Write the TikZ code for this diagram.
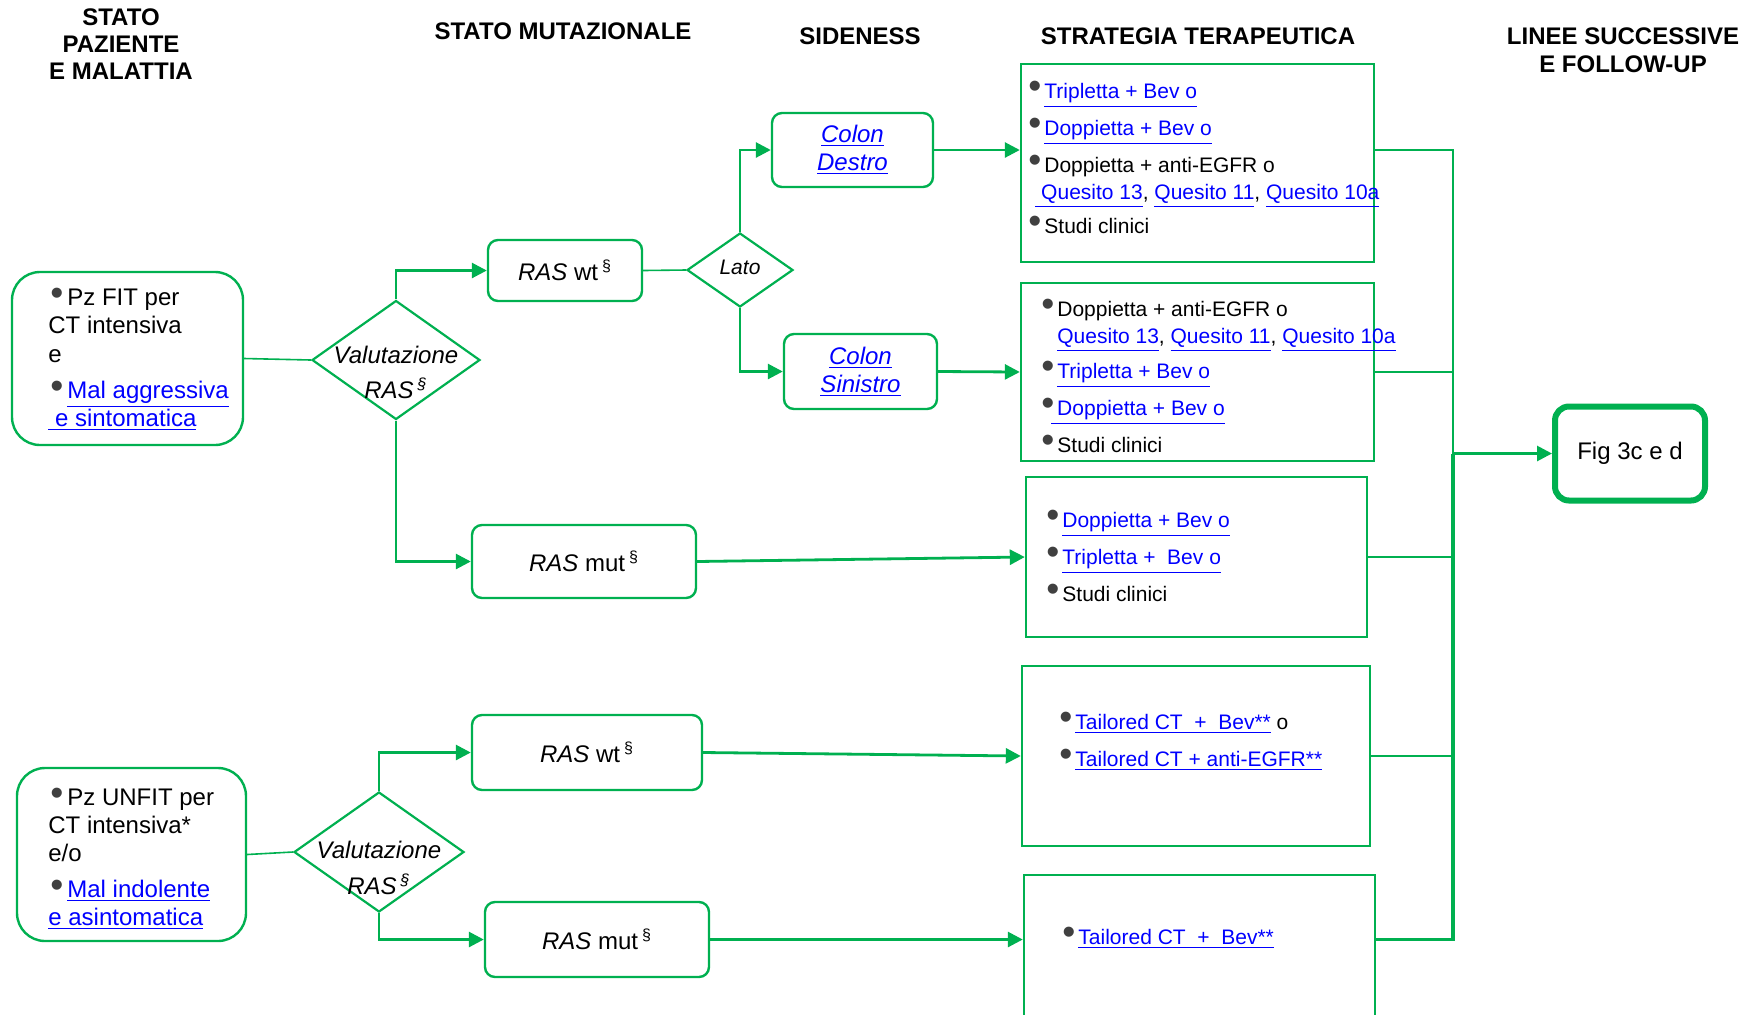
\documentclass[tikz,border=0pt]{standalone}
\usepackage{fontspec}
\setmainfont{Liberation Sans}
\usepackage{graphicx}
\usepackage{tikz}
\usetikzlibrary{arrows.meta, shapes.geometric, positioning, calc}
\definecolor{boxgreen}{HTML}{00B050}
\definecolor{linkblue}{HTML}{0000FF}
\definecolor{dotgray}{HTML}{404040}
\newcommand{\lnk}[1]{\textcolor{linkblue}{\underline{#1}}}
\newcommand{\itm}[1][8pt]{\makebox[#1][l]{\textcolor{dotgray}{\scalebox{1.55}{\fontsize{12}{12}\selectfont •}}}}
\newcommand{\ssign}{\hspace{2pt}\textsuperscript{§}}

\begin{document}
\begin{tikzpicture}[x=0.5pt, y=-0.5pt, >={Triangle[length=7.5pt,width=7.5pt]},
  hd/.style={font=\bfseries\fontsize{12}{13.5}\selectfont, align=center, inner sep=0},
  rbox/.style={draw=boxgreen, line width=1.2pt, rounded corners=5pt, inner sep=0,
    font=\fontsize{12}{14}\selectfont, align=center},
  sbox/.style={draw=boxgreen, line width=1.2pt, inner sep=0},
  diam/.style={diamond, draw=boxgreen, line width=1.1pt, inner sep=0},
  dlab/.style={font=\itshape\fontsize{12}{17.5}\selectfont, align=center, inner sep=0},
  lst/.style={anchor=north west, inner sep=0, align=left, font=\fontsize{10.5}{13.5}\selectfont},
  conn/.style={draw=boxgreen, line width=1.4pt},
  plain/.style={draw=boxgreen, line width=0.8pt}]
\useasboundingbox (0,0) rectangle (1747,1014);

\node[hd] (hpat) at (121,44) {STATO\\PAZIENTE\\E MALATTIA};
\node[hd] (hmut) at (563,31) {STATO MUTAZIONALE};
\node[hd] (hside) at (860,36) {SIDENESS};
\node[hd] (hstrat) at (1198,36) {STRATEGIA TERAPEUTICA};
\node[hd, font=\bfseries\fontsize{12}{14}\selectfont] (hfol) at (1623,50) {LINEE SUCCESSIVE\\E FOLLOW-UP};

\node[rbox, rounded corners=14pt, minimum width=115.5pt, minimum height=86.5pt] (fit) at (127.5,358.5) {};
\node[lst, font=\fontsize{12}{14.25}\selectfont] (fitt) at (48,287.5) {%
  \hspace*{1pt}\itm[8.5pt]Pz FIT per\\
  CT intensiva\\
  e\\[3.75pt]
  \hspace*{1pt}\itm[8.5pt]\lnk{Mal aggressiva}\\
  \lnk{\ e sintomatica}};
\node[diam, minimum width=84pt, minimum height=59.5pt,
  label={[dlab, yshift=-6pt]center:{Valutazione\\RAS\ssign}}] (v1) at (396,360) {};
\node[rbox, minimum width=77pt, minimum height=30.5pt] (w1) at (565,270.5) {\textit{RAS} wt\ssign};
\node[diam, minimum width=53pt, minimum height=37pt,
  label={[dlab, font=\itshape\fontsize{10.5}{12}\selectfont, yshift=1.5pt]center:Lato}] (lato) at (740,270) {};
\node[rbox, minimum width=80.5pt, minimum height=37pt, font=\itshape\fontsize{12}{14}\selectfont] (cd) at (852.5,150) {\lnk{Colon}\\\lnk{Destro}};
\node[rbox, minimum width=76.5pt, minimum height=37.5pt, font=\itshape\fontsize{12}{14}\selectfont] (cs) at (860.5,371.5) {\lnk{Colon}\\\lnk{Sinistro}};
\node[rbox, minimum width=112pt, minimum height=36.5pt] (m1) at (584,561.5) {\textit{RAS} mut\ssign};

\node[sbox, minimum width=176.5pt, minimum height=99pt] (s1) at (1197.5,163) {};
\node[lst] (s1t) at (1028,81) {%
  \itm\lnk{Tripletta + Bev o}\\[5pt]
  \itm\lnk{Doppietta + Bev o}\\[5pt]
  \itm Doppietta + anti-EGFR o\\
  \hspace*{3.5pt}\lnk{\ Quesito 13}, \lnk{Quesito 11}, \lnk{Quesito 10a}\\[3.5pt]
  \itm Studi clinici};
\node[sbox, minimum width=176.5pt, minimum height=89pt] (s2) at (1197.5,372) {};
\node[lst] (s2t) at (1041,299) {%
  \itm Doppietta + anti-EGFR o\\
  \hspace*{8pt}\lnk{Quesito 13}, \lnk{Quesito 11}, \lnk{Quesito 10a}\\[4pt]
  \itm\lnk{Tripletta + Bev o}\\[5pt]
  \itm\hspace{-3pt}\lnk{\ Doppietta + Bev o}\\[5pt]
  \itm Studi clinici};
\node[sbox, minimum width=170.5pt, minimum height=80pt] (s3) at (1196.5,557) {};
\node[lst] (s3t) at (1046,510) {%
  \itm\lnk{Doppietta + Bev o}\\[5pt]
  \itm\lnk{Tripletta +\ \ Bev o}\\[5pt]
  \itm Studi clinici};
\node[sbox, minimum width=174pt, minimum height=90pt] (s4) at (1196,756) {};
\node[lst] (s4t) at (1059,712) {%
  \itm\lnk{Tailored CT\ \ +\ \ Bev**} o\\[5pt]
  \itm\lnk{Tailored CT + anti-EGFR**}};
\node[sbox, minimum width=175.5pt, minimum height=72pt] (s5) at (1199.5,947) {};
\node[lst] (s5t) at (1062,927) {\itm\lnk{Tailored CT\ \ +\ \ Bev**}};

\node[rbox, line width=3pt, rounded corners=7pt, minimum width=75pt, minimum height=47pt] (fig) at (1630,453.5) {Fig 3c e d};

\node[rbox, rounded corners=14pt, minimum width=114.5pt, minimum height=86.5pt] (unfit) at (131.5,854.5) {};
\node[lst, font=\fontsize{12}{14}\selectfont] (unfitt) at (48,787.5) {%
  \hspace*{1pt}\itm[8.5pt]Pz UNFIT per\\
  CT intensiva*\\
  e/o\\[4pt]
  \hspace*{1pt}\itm[8.5pt]\lnk{Mal indolente}\\
  \lnk{e asintomatica}};
\node[diam, minimum width=85pt, minimum height=60pt,
  label={[dlab, font=\itshape\fontsize{12}{18}\selectfont, yshift=-8pt]center:{Valutazione\\RAS\ssign}}] (v2) at (379,852) {};
\node[rbox, minimum width=115pt, minimum height=37.5pt] (w2) at (587,752.5) {\textit{RAS} wt\ssign};
\node[rbox, minimum width=112pt, minimum height=37.5pt] (m2) at (597,939.5) {\textit{RAS} mut\ssign};

\draw[plain] (fit.east) -- (v1.west);
\draw[conn,->] (v1.north) |- (w1.west);
\draw[conn,->] (v1.south) |- (m1.west);
\draw[plain] (w1.east) -- (lato.west);
\draw[conn,->] (lato.north) |- (cd.west);
\draw[conn,->] (lato.south) |- (cs.west);
\draw[conn,->] (cd.east) -- (s1.west |- cd.east);
\draw[conn,->] (cs.east) -- (s2.west);
\draw[conn,->] (m1.east) -- (s3.west);
\draw[plain] (unfit.east) -- (v2.west);
\draw[conn,->] (v2.north) |- (w2.west);
\draw[conn,->] (v2.south) |- (m2.west);
\draw[conn,->] (w2.east) -- (s4.west);
\draw[conn,->] (m2.east) -- (s5.west |- m2.east);

\coordinate (bus) at (1453,453.5);
\draw[conn] (s1.east |- cd.east) -| (bus);
\draw[conn] (s2.east) -- (s2.east -| bus);
\draw[conn] (s3.east) -- (s3.east -| bus);
\draw[conn] (s4.east) -- (s4.east -| bus);
\draw[conn, line width=1.9pt] (s5.east |- m2.east) -| (bus);
\draw[conn,->] (bus) -- (fig.west);
\end{tikzpicture}
\end{document}
